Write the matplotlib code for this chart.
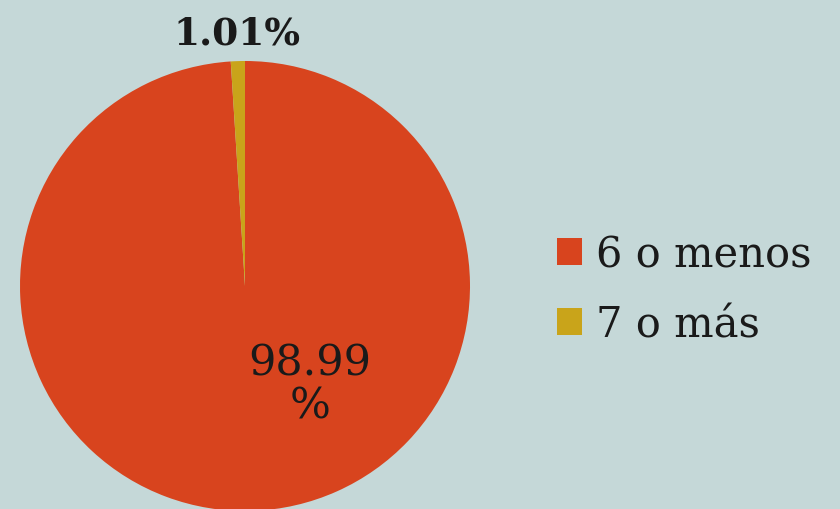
import matplotlib.pyplot as plt
from matplotlib.patches import Patch

categorias = ['6 o menos', '7 o más']
porcentajes = [98.99, 1.01]
colores = ['#d8441e', '#c9a41a']
fondo = '#c5d8d8'

plt.rcParams['font.family'] = ['DejaVu Serif']

fig = plt.figure(figsize=(8.4, 5.1), dpi=100, facecolor=fondo)
ax = fig.add_axes([0, 0, 1, 1])
ax.set_facecolor(fondo)

# pie in pixel-like data units, y measured from bottom
cx, cy, r = 245, 510 - 287, 225
inicio = 90 + porcentajes[1] / 100 * 360
ax.pie(porcentajes, colors=colores, startangle=inicio, counterclock=True,
       center=(cx, cy), radius=r, wedgeprops=dict(linewidth=0))
ax.set_xlim(0, 840)
ax.set_ylim(0, 510)
ax.set_aspect('equal')
ax.axis('off')

ax.text(cx - 8, cy + r + 28, f'{porcentajes[1]:.2f}%', ha='center', va='center',
        fontsize=27, fontweight='bold', color='#1a1a1a')
ax.text(cx + 65, cy - 98, f'{porcentajes[0]:.2f}\n%', ha='center', va='center',
        fontsize=31, color='#1a1a1a', linespacing=1.05)

handles = [Patch(facecolor=c, edgecolor='none') for c in colores]
ax.legend(handles, categorias, loc='center left', bbox_to_anchor=(0.618, 0.431),
          frameon=False, fontsize=30, handlelength=0.62, handleheight=0.6,
          handletextpad=0.33, labelspacing=0.68, labelcolor='#1a1a1a')

fig.savefig('out.png', dpi=100, facecolor=fondo)
